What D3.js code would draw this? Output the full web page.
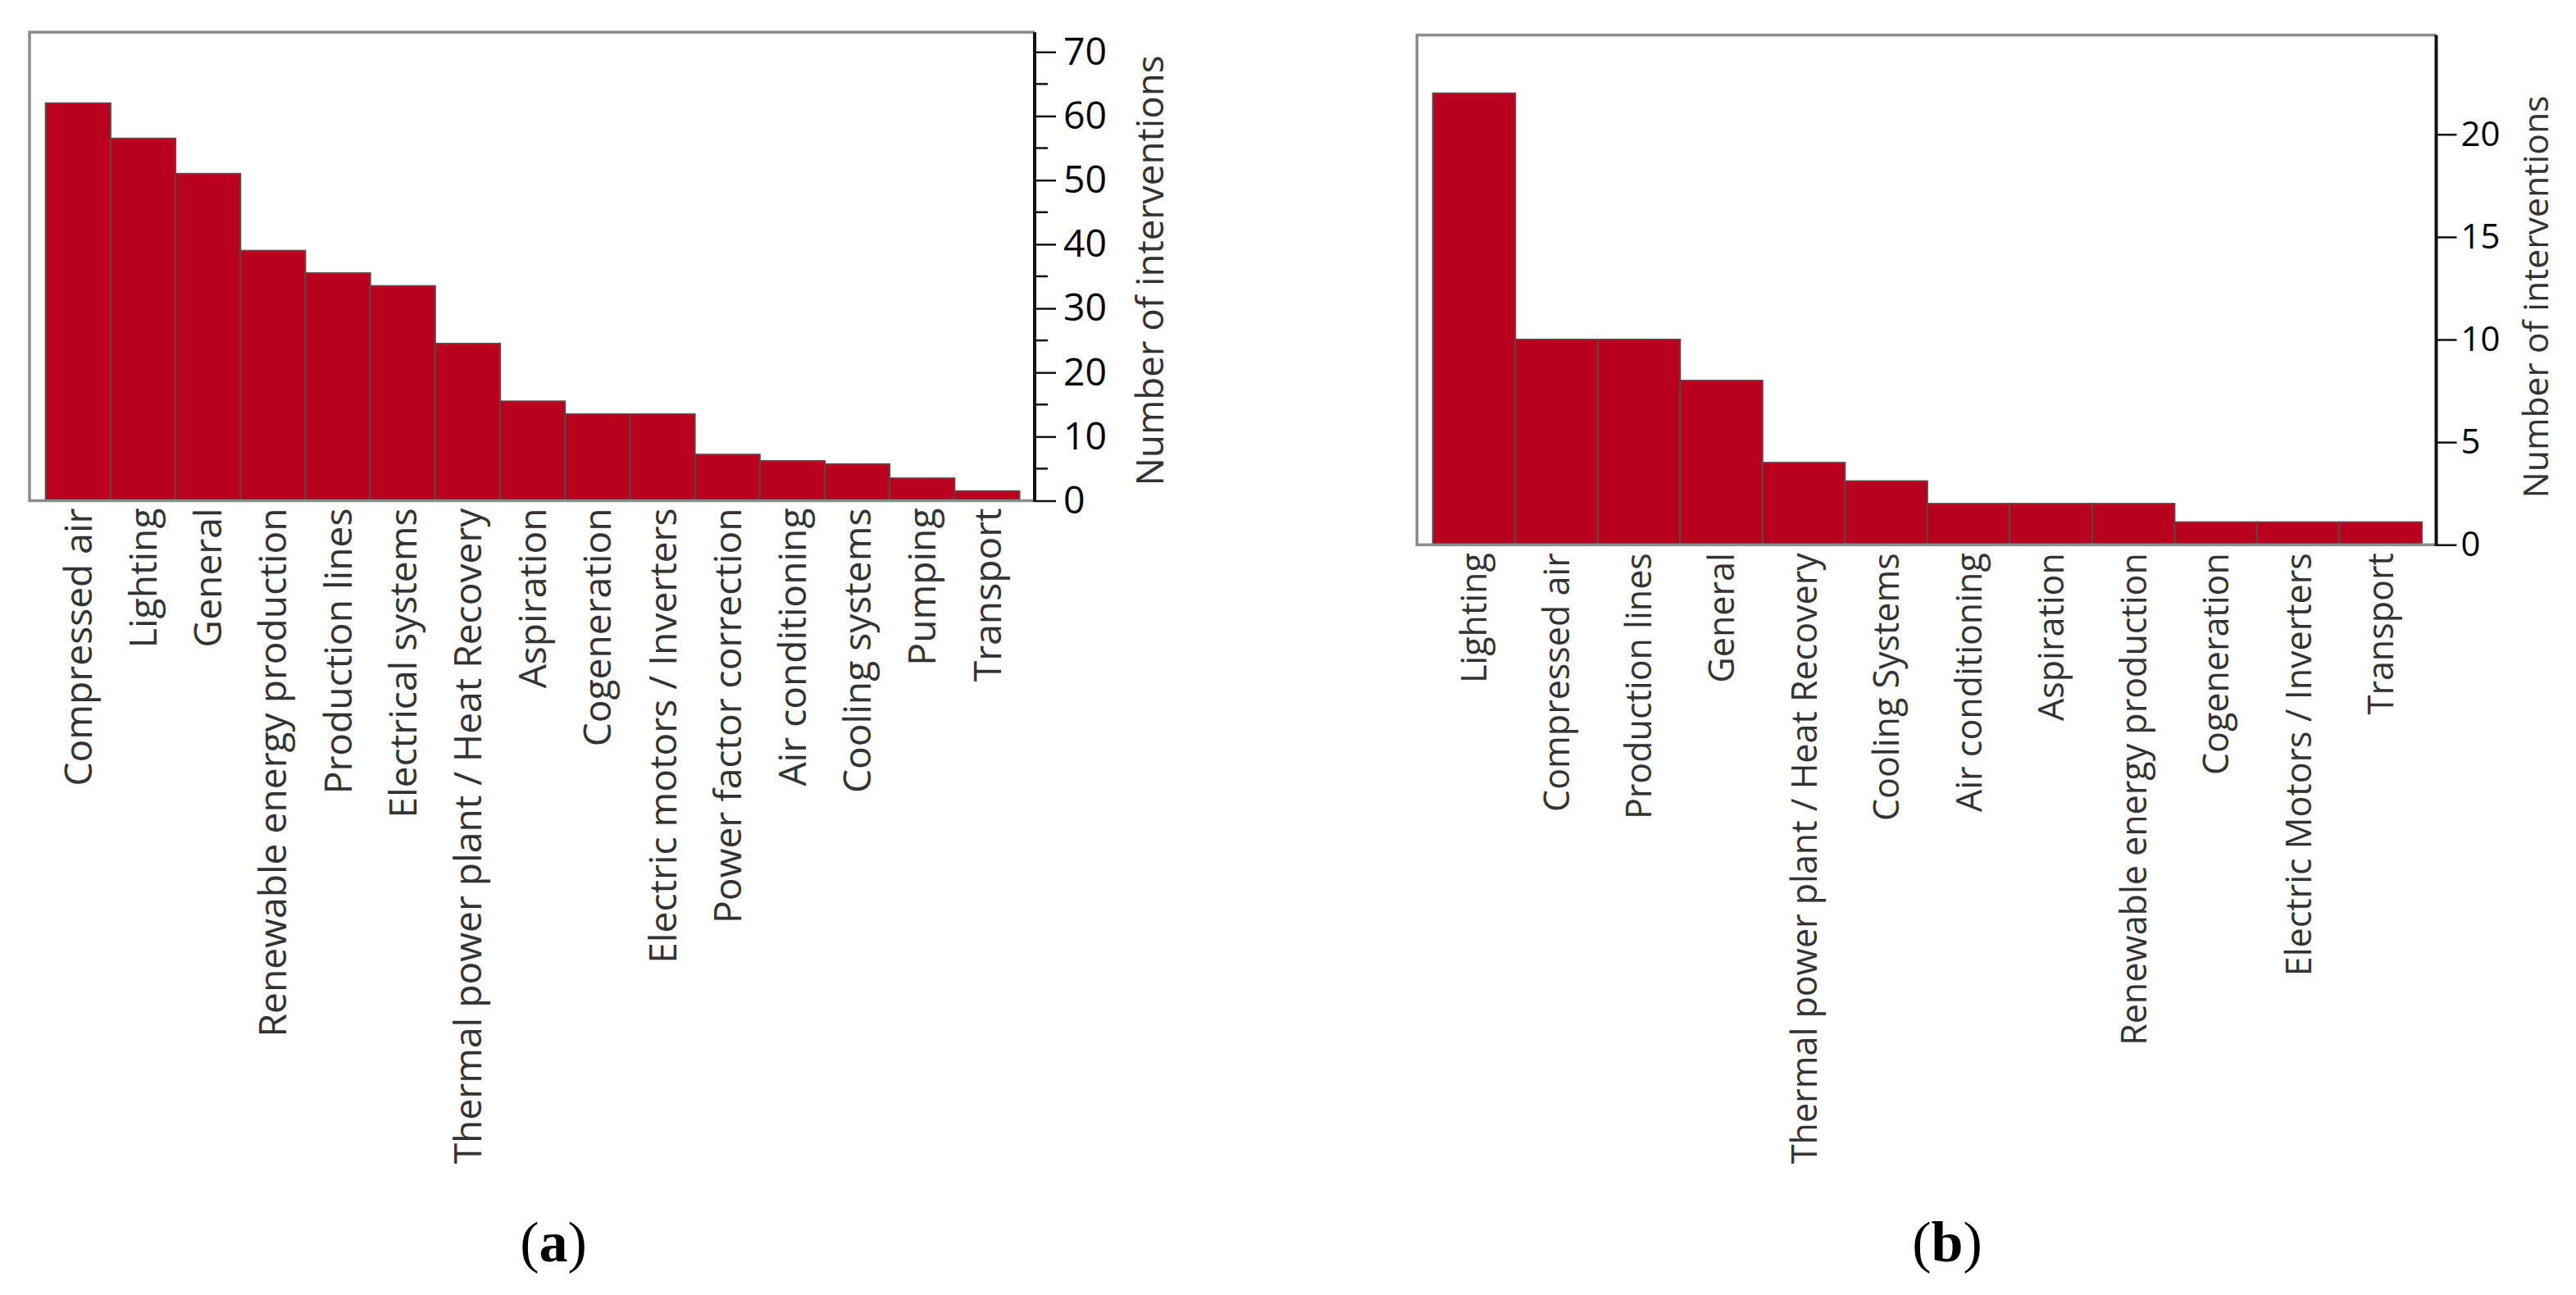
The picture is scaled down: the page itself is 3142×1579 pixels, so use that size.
<!DOCTYPE html>
<html>
<head>
<meta charset="utf-8">
<script src="https://cdn.jsdelivr.net/npm/d3@7"></script>
<style>
  html, body { margin: 0; padding: 0; background: #fff; }
  svg { display: block; }
</style>
</head>
<body>
<svg id="chart" width="3142" height="1579"></svg>
<script>

// panel (a)
var categoriesA = ["Compressed air", "Lighting", "General", "Renewable energy production",
  "Production lines", "Electrical systems", "Thermal power plant / Heat Recovery", "Aspiration",
  "Cogeneration", "Electric motors / Inverters", "Power factor correction", "Air conditioning",
  "Cooling systems", "Pumping", "Transport"];
var valuesA = [62, 56.5, 51, 39, 35.5, 33.5, 24.5, 15.5, 13.5, 13.5, 7.2, 6.2, 5.7, 3.5, 1.5];
var ticksA = [0, 10, 20, 30, 40, 50, 60, 70];
var minorTicksA = [5, 15, 25, 35, 45, 55, 65];

// panel (b)
var categoriesB = ["Lighting", "Compressed air", "Production lines", "General",
  "Thermal power plant / Heat Recovery", "Cooling Systems", "Air conditioning", "Aspiration",
  "Renewable energy production", "Cogeneration", "Electric Motors / Inverters", "Transport"];
var valuesB = [22, 10, 10, 8, 4, 3.1, 2, 2, 2, 1.1, 1.1, 1.1];
var ticksB = [0, 5, 10, 15, 20];
var minorTicksB = [];

var yTitle = "Number of interventions";
var captions = ["a", "b"];

var svg = d3.select("#chart");
var sans = "'Open Sans', 'Noto Sans', sans-serif";

// font size that makes a string span a given length
function fitSize(str, target) {
  var t = svg.append("text").attr("font-family", sans).attr("font-size", 100).text(str);
  var len = t.node().getComputedTextLength();
  t.remove();
  return 100 * target / len;
}

function drawPanel(p) {

  var g = svg.append("g").attr("class", "panel");

  var x = d3.scaleBand()
            .domain(p.categories)
            .range([p.barLeft, p.barRight])
            .paddingInner(0).paddingOuter(0);

  var y = d3.scaleLinear()
            .domain([0, p.tickRef])
            .range([p.baseY, p.refY]);

  var labelSize = fitSize("Thermal power plant / Heat Recovery", p.labelLen),
      titleSize = fitSize(yTitle, p.titleLen),
      tickSize = fitSize(String(p.ticks[p.ticks.length - 1]), p.tickLen);

  // bars
  g.append("g").selectAll("rect")
   .data(p.values)
   .enter().append("rect")
   .attr("x", function(d, i) { return x(p.categories[i]); })
   .attr("y", function(d) { return y(d); })
   .attr("width", x.bandwidth())
   .attr("height", function(d) { return y(0) - y(d); })
   .attr("fill", "#b9001f")
   .attr("stroke", "#5e4547")
   .attr("stroke-width", 2);

  // grey frame on left / top / bottom
  g.append("path")
   .attr("d", "M" + p.axisX + "," + p.frameTop + "H" + p.frameLeft + "V" + y(0) + "H" + p.axisX)
   .attr("fill", "none")
   .attr("stroke", "#8c8c8c")
   .attr("stroke-width", 3.5);

  // right value axis
  var axis = d3.axisRight(y)
               .tickValues(p.ticks)
               .tickSize(p.tickLength)
               .tickPadding(p.tickPad)
               .tickFormat(d3.format("d"));

  var ax = g.append("g")
            .attr("transform", "translate(" + p.axisX + ",0)")
            .call(axis);

  ax.select(".domain").remove();
  ax.append("line")
    .attr("y1", p.frameTop).attr("y2", y(0) + 1.5)
    .attr("stroke", "#111").attr("stroke-width", 4);
  ax.selectAll(".tick line").attr("stroke", "#111").attr("stroke-width", 2.5);
  ax.selectAll(".tick text")
    .attr("font-family", sans)
    .attr("font-size", tickSize)
    .attr("fill", "#000");

  ax.selectAll("line.minor")
    .data(p.minorTicks)
    .enter().append("line")
    .attr("class", "minor")
    .attr("x1", 0).attr("x2", p.minorLength)
    .attr("y1", function(d) { return y(d); })
    .attr("y2", function(d) { return y(d); })
    .attr("stroke", "#111").attr("stroke-width", 2.5);

  // axis title
  g.append("text")
   .attr("transform", "translate(" + p.titleX + "," + p.titleY + ") rotate(-90)")
   .attr("text-anchor", "middle")
   .attr("dy", "0.35em")
   .attr("font-family", sans)
   .attr("font-size", titleSize)
   .attr("fill", "#333")
   .text(yTitle);

  // category labels
  g.append("g").selectAll("text")
   .data(p.categories)
   .enter().append("text")
   .attr("transform", function(d) {
     return "translate(" + (x(d) + x.bandwidth() / 2) + "," + (y(0) + p.labelGap) + ") rotate(-90)";
   })
   .attr("text-anchor", "end")
   .attr("dy", "0.36em")
   .attr("font-family", sans)
   .attr("font-size", labelSize)
   .attr("fill", "#333")
   .text(function(d) { return d; });

  // caption
  var cap = g.append("text")
             .attr("x", p.captionX).attr("y", 1538)
             .attr("text-anchor", "middle")
             .attr("font-family", "'Liberation Serif', 'Times New Roman', serif")
             .attr("font-size", 70)
             .attr("fill", "#000");
  cap.append("tspan").text("(");
  cap.append("tspan").attr("font-weight", "bold").text(p.caption);
  cap.append("tspan").text(")");
}

drawPanel({
  categories: categoriesA, values: valuesA, ticks: ticksA, minorTicks: minorTicksA,
  tickRef: 70, baseY: 610.5, refY: 63.3, frameTop: 39.3, frameLeft: 36,
  axisX: 1262, barLeft: 55.7, barRight: 1243.5,
  tickLength: 26, minorLength: 16, tickPad: 9, tickLen: 53,
  labelLen: 800, labelGap: 9, titleLen: 525, titleX: 1403, titleY: 330,
  captionX: 675, caption: captions[0]
});

drawPanel({
  categories: categoriesB, values: valuesB, ticks: ticksB, minorTicks: minorTicksB,
  tickRef: 20, baseY: 664.2, refY: 163.8, frameTop: 42.7, frameLeft: 1728.3,
  axisX: 2971.5, barLeft: 1747.7, barRight: 2954,
  tickLength: 25, minorLength: 0, tickPad: 5, tickLen: 48,
  labelLen: 745, labelGap: 10, titleLen: 491, titleX: 3093, titleY: 362,
  captionX: 2375, caption: captions[1]
});

</script>
</body>
</html>
